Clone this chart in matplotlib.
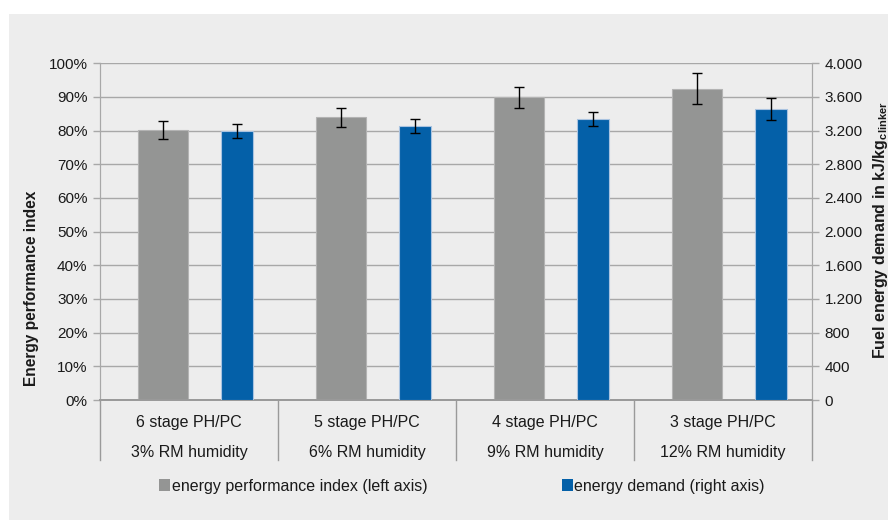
import matplotlib
matplotlib.use('Agg')
import matplotlib.pyplot as plt
import matplotlib.transforms as mtransforms
from matplotlib.patches import Patch, Rectangle
from matplotlib.lines import Line2D
from matplotlib.ticker import FuncFormatter, MultipleLocator
import numpy as np

stages = ['6 stage PH/PC', '5 stage PH/PC', '4 stage PH/PC', '3 stage PH/PC']
humidity = ['3% RM humidity', '6% RM humidity', '9% RM humidity', '12% RM humidity']
# energy performance index in %
epi = [80.2, 84.0, 89.9, 92.5]
epi_err = [2.8, 2.8, 3.1, 4.5]
# fuel energy demand in kJ/kg clinker
demand = [3200, 3255, 3338, 3457]
demand_err = [83, 81, 81, 131]

plt.rcParams['font.family'] = ['Liberation Sans', 'DejaVu Sans']
plt.rcParams['mathtext.fontset'] = 'custom'
plt.rcParams['mathtext.rm'] = 'Liberation Sans:bold'
plt.rcParams['mathtext.it'] = 'Liberation Sans:bold'

GRAY = '#949594'
BLUE = '#0460A8'
GRID = '#A8A8A8'
TXT = '#1a1a1a'

W, H = 888, 520
fig = plt.figure(figsize=(W / 100, H / 100), dpi=100, facecolor='white')
fig.patches.append(Rectangle((9 / W, 0), 1 - 9 / W, 1 - 14 / H, transform=fig.transFigure,
                             facecolor='#EDEDED', edgecolor='none', zorder=-10))

ax = fig.add_axes([100 / W, 1 - 400 / H, 712 / W, 336.7 / H])
ax.set_facecolor('none')
ax2 = ax.twinx()
ax2.set_facecolor('none')

x = np.arange(len(stages))
ax.bar(x - 0.146, epi, width=0.28, color=GRAY, edgecolor='#B3B3B3', linewidth=0.8, zorder=3)
ax.errorbar(x - 0.146, epi, yerr=epi_err, fmt='none', ecolor='black', elinewidth=1,
            capsize=3.5, capthick=1, zorder=4)
ax2.bar(x + 0.27, demand, width=0.18, color=BLUE, edgecolor='#A9C3E0', linewidth=0.8, zorder=3)
ax2.errorbar(x + 0.27, demand, yerr=demand_err, fmt='none', ecolor='black', elinewidth=1,
             capsize=3.5, capthick=1, zorder=4)

ax.set_xlim(-0.5, len(stages) - 0.5)
ax.set_ylim(0, 100)
ax2.set_ylim(0, 4000)
ax.yaxis.set_major_locator(MultipleLocator(10))
ax2.yaxis.set_major_locator(MultipleLocator(400))
ax.yaxis.set_major_formatter(FuncFormatter(lambda v, p: f'{int(round(v))}%'))
ax2.yaxis.set_major_formatter(FuncFormatter(lambda v, p: f'{int(round(v)):,}'.replace(',', '.')))
ax.grid(axis='y', color=GRID, linewidth=1, zorder=0)
ax.set_axisbelow(True)
ax.set_xticks([])

for a in (ax, ax2):
    a.spines['top'].set_visible(False)
    a.spines['left'].set_color(GRID)
    a.spines['right'].set_color(GRID)
    a.spines['bottom'].set_color('#9A9A9A')
    a.spines['bottom'].set_linewidth(1.3)
    a.tick_params(axis='y', length=5, width=1, color=GRID, labelsize=11, labelcolor=TXT, pad=4)
ax2.set_xticks([])

# category labels below the axis
tr = mtransforms.blended_transform_factory(ax.transData, fig.transFigure)
for i in range(len(stages)):
    fig.text(i, 1 - 422 / H, stages[i], transform=tr, ha='center', va='center',
             fontsize=11.5, color=TXT)
    fig.text(i, 1 - 452 / H, humidity[i], transform=tr, ha='center', va='center',
             fontsize=11.5, color=TXT)
for xv in np.arange(-0.5, len(stages), 1.0):
    fig.lines.append(Line2D([xv, xv], [1 - 400 / H, 1 - 460 / H], transform=tr,
                            color='#9A9A9A', linewidth=1))

fig.text(31.5 / W, 232 / H, 'Energy performance index', rotation=90, ha='center',
         va='center', fontsize=11.2, fontweight='bold', color=TXT)
fig.text(880 / W, 1 - 230 / H, r'Fuel energy demand in kJ/kg$_{\mathrm{clinker}}$', rotation=90,
         ha='center', va='center', fontsize=11.5, fontweight='bold', color=TXT)

handles = [Patch(facecolor=GRAY, edgecolor='none'), Patch(facecolor=BLUE, edgecolor='none')]
fig.legend(handles, ['energy performance index (left axis)', 'energy demand (right axis)'],
           loc='center', bbox_to_anchor=(462 / W, 1 - 486 / H), ncol=2, frameon=False,
           handlelength=0.7, handleheight=0.7, handletextpad=0.1, columnspacing=8.4,
           fontsize=11.5, labelcolor=TXT)

fig.savefig('out.png', dpi=100, facecolor=fig.get_facecolor())
